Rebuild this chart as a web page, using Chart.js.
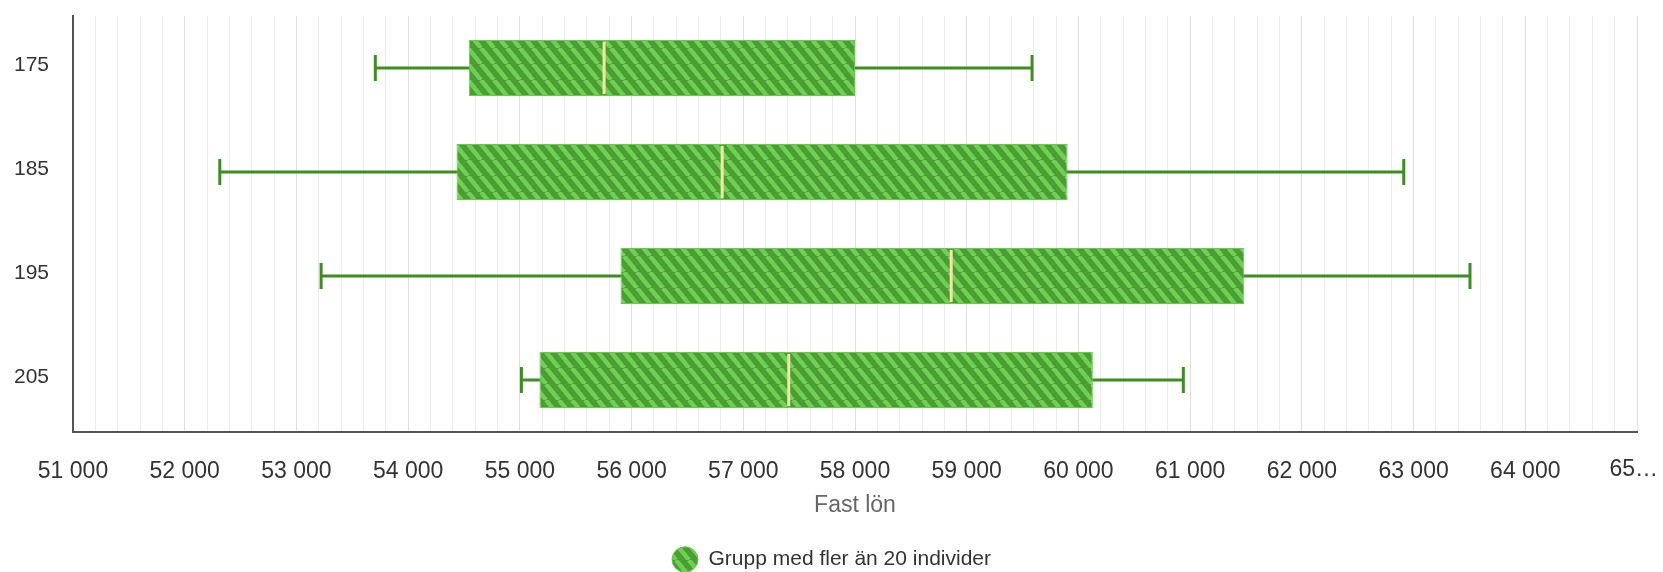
<!DOCTYPE html>
<html>
<head>
  <meta charset="UTF-8">
  <title>Fast lön</title>
  <script src="https://cdn.jsdelivr.net/npm/chart.js@4.4.1/dist/chart.umd.min.js"></script>
  <style>
    html, body { margin: 0; padding: 0; background: #fff; }
    #wrap { width: 1663px; height: 572px; }
  </style>
</head>
<body>
  <div id="wrap"><canvas id="boxChart" width="1663" height="572"></canvas></div>

  <script>
    // Box plot data
    const categories = ['175', '185', '195', '205'];
    const minValues = [53706, 52314, 53221, 55014];
    const q1Values = [54542, 54433, 55901, 55176];
    const medianValues = [55754, 56811, 58861, 57407];
    const q3Values = [58000, 59903, 61485, 60129];
    const maxValues = [59585, 62912, 63505, 60939];

    const xLabelValues = [51000, 52000, 53000, 54000, 55000, 56000, 57000, 58000, 59000, 60000, 61000, 62000, 63000, 64000];
    const lastTickLabel = '65…';
    const seriesName = 'Grupp med fler än 20 individer';
    const axisTitle = 'Fast lön';

    const FONT = "'Liberation Sans', Arial, sans-serif";

    // striped fill for the boxes
    function makeStripes() {
      const w = 13, h = 16;
      const c = document.createElement('canvas');
      c.width = w; c.height = h;
      const g = c.getContext('2d');
      g.fillStyle = '#4b9e31';
      g.fillRect(0, 0, w, h);
      g.strokeStyle = '#70cf55';
      g.lineWidth = 4.5;
      for (const o of [-w, 0, w]) {
        g.beginPath();
        g.moveTo(o, 0);
        g.lineTo(o + w, h);
        g.stroke();
      }
      return g.createPattern(c, 'repeat');
    }

    const fmt = v => String(v).replace(/\B(?=(\d{3})+(?!\d))/g, ' ');

    const boxParts = {
      id: 'boxParts',
      beforeDatasetsDraw(chart) {
        const { ctx, scales: { x, y } } = chart;
        ctx.save();
        ctx.strokeStyle = '#3f8d22';
        ctx.lineWidth = 3;
        categories.forEach((c, i) => {
          const cy = y.getPixelForValue(i);
          const a = x.getPixelForValue(minValues[i]);
          const b = x.getPixelForValue(maxValues[i]);
          ctx.beginPath();
          ctx.moveTo(a, cy); ctx.lineTo(b, cy);
          ctx.moveTo(a, cy - 13); ctx.lineTo(a, cy + 13);
          ctx.moveTo(b, cy - 13); ctx.lineTo(b, cy + 13);
          ctx.stroke();
        });
        ctx.restore();
      },
      afterDatasetsDraw(chart) {
        const { ctx, scales: { x, y } } = chart;
        const meta = chart.getDatasetMeta(0);
        ctx.save();
        ctx.strokeStyle = '#f7e6a3';
        ctx.lineWidth = 3;
        categories.forEach((c, i) => {
          const cy = y.getPixelForValue(i);
          const h = meta.data[i].height;
          const mx = x.getPixelForValue(medianValues[i]);
          ctx.beginPath();
          ctx.moveTo(mx, cy - h / 2 + 2);
          ctx.lineTo(mx, cy + h / 2 - 2);
          ctx.stroke();
        });
        ctx.restore();
      },
      afterDraw(chart) {
        // last x label does not fit, shown shortened at the edge
        const { ctx, scales: { x } } = chart;
        ctx.save();
        ctx.font = '23px ' + FONT;
        ctx.fillStyle = '#333333';
        ctx.textAlign = 'right';
        ctx.textBaseline = 'top';
        ctx.fillText(lastTickLabel, chart.width - 5, x.top + 26);
        ctx.restore();
      }
    };

    const stripes = makeStripes();

    new Chart(document.getElementById('boxChart').getContext('2d'), {
      type: 'bar',
      data: {
        labels: categories,
        datasets: [{
          label: seriesName,
          data: categories.map((c, i) => [q1Values[i], q3Values[i]]),
          backgroundColor: stripes,
          borderColor: '#69c94f',
          borderWidth: 1,
          borderSkipped: false,
          barPercentage: 0.54,
          categoryPercentage: 1
        }]
      },
      options: {
        indexAxis: 'y',
        responsive: false,
        devicePixelRatio: 1,
        animation: false,
        layout: { padding: { top: 16, right: 0, bottom: -8, left: 0 } },
        plugins: {
          legend: {
            position: 'bottom',
            labels: {
              usePointStyle: true,
              pointStyle: 'circle',
              pointStyleWidth: 26,
              boxHeight: 18,
              padding: 3,
              color: '#333333',
              font: { family: FONT, size: 21 }
            }
          },
          tooltip: { enabled: false }
        },
        scales: {
          x: {
            min: 51000,
            max: 65000,
            grid: {
              drawTicks: false,
              color: ctx => (ctx.tick && ctx.tick.value % 1000 === 0) ? '#dedede' : '#ececec'
            },
            border: { color: '#555555', width: 2 },
            ticks: {
              stepSize: 200,
              autoSkip: false,
              maxRotation: 0,
              padding: 26,
              color: '#333333',
              font: { family: FONT, size: 23 },
              callback: v => xLabelValues.includes(v) ? fmt(v) : ''
            },
            title: {
              display: true,
              text: axisTitle,
              color: '#666666',
              font: { family: FONT, size: 23 },
              padding: { top: 0, bottom: 27 }
            },
            afterFit: s => { s.height = 114; }
          },
          y: {
            grid: { drawTicks: false, color: 'transparent' },
            border: { color: '#555555', width: 2 },
            ticks: {
              padding: 24,
              labelOffset: -3,
              color: '#333333',
              font: { family: FONT, size: 21 }
            },
            afterFit: s => { s.width = 73; s.paddingTop = 0; s.paddingBottom = 0; }
          }
        }
      },
      plugins: [boxParts]
    });
  </script>
</body>
</html>
